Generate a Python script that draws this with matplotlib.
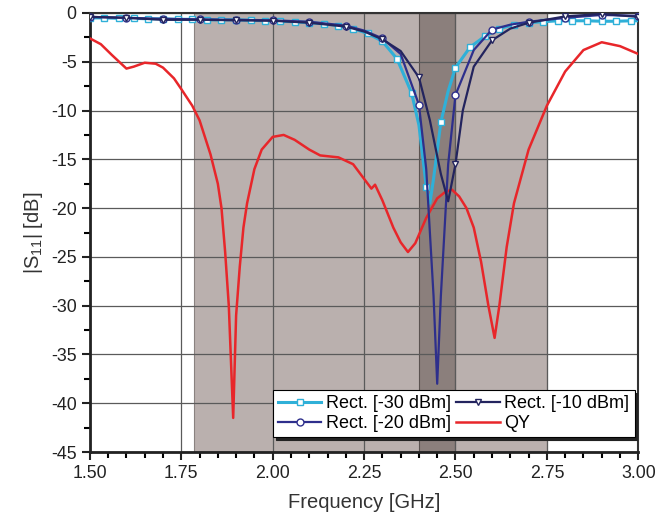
import numpy as np
import matplotlib
matplotlib.use("Agg")
import matplotlib.pyplot as plt
from matplotlib.ticker import MultipleLocator

plt.rcParams['font.family'] = ['Liberation Sans', 'DejaVu Sans']
plt.rcParams['axes.unicode_minus'] = False

# Rect. [-30 dBm]
f30 = [1.50, 1.54, 1.58, 1.62, 1.66, 1.70, 1.74, 1.78, 1.82, 1.86, 1.90, 1.94,
       1.98, 2.02, 2.06, 2.10, 2.14, 2.18, 2.22, 2.26, 2.30, 2.34, 2.38, 2.40,
       2.42, 2.43, 2.44, 2.46, 2.48, 2.50, 2.54, 2.58, 2.62, 2.66, 2.70, 2.74,
       2.78, 2.82, 2.86, 2.90, 2.94, 2.98, 3.00]
s30 = [-0.5, -0.5, -0.55, -0.55, -0.6, -0.6, -0.65, -0.65, -0.7, -0.7, -0.7, -0.75,
       -0.8, -0.85, -0.9, -1.0, -1.1, -1.3, -1.6, -2.1, -2.9, -4.7, -8.2, -11.5,
       -17.8, -19.5, -17.0, -11.2, -8.0, -5.6, -3.5, -2.4, -1.6, -1.2, -1.0, -0.9,
       -0.8, -0.8, -0.8, -0.85, -0.85, -0.8, -0.8]

# Rect. [-20 dBm]
f20 = [1.50, 1.60, 1.70, 1.80, 1.90, 2.00, 2.10, 2.20, 2.25, 2.30, 2.35, 2.40,
       2.42, 2.44, 2.45, 2.46, 2.48, 2.50, 2.55, 2.60, 2.65, 2.70, 2.80, 2.90, 3.00]
s20 = [-0.4, -0.5, -0.6, -0.65, -0.7, -0.75, -0.9, -1.3, -1.8, -2.6, -4.2, -9.4,
       -16.0, -29.0, -38.0, -29.0, -15.5, -8.4, -3.8, -1.7, -1.2, -0.9, -0.5, -0.2, -0.3]

# Rect. [-10 dBm]
f10 = [1.50, 1.60, 1.70, 1.80, 1.90, 2.00, 2.10, 2.20, 2.25, 2.30, 2.35, 2.40,
       2.43, 2.46, 2.48, 2.50, 2.52, 2.55, 2.60, 2.65, 2.70, 2.80, 2.90, 3.00]
s10 = [-0.4, -0.5, -0.7, -0.7, -0.75, -0.8, -1.0, -1.4, -1.9, -2.7, -3.9, -6.6,
       -11.0, -16.5, -19.3, -15.5, -10.0, -5.5, -2.8, -1.6, -1.0, -0.35, -0.1, -0.4]

# QY
fqy = [1.50, 1.53, 1.56, 1.60, 1.62, 1.65, 1.68, 1.70, 1.73, 1.75, 1.78, 1.80,
       1.83, 1.85, 1.86, 1.87, 1.88, 1.892, 1.90, 1.91, 1.92, 1.93, 1.95, 1.97,
       2.00, 2.03, 2.06, 2.10, 2.13, 2.18, 2.22, 2.25, 2.27, 2.28, 2.30, 2.33,
       2.35, 2.37, 2.39, 2.42, 2.45, 2.47, 2.49, 2.51, 2.53, 2.55, 2.57, 2.59,
       2.607, 2.62, 2.64, 2.66, 2.70, 2.75, 2.80, 2.85, 2.90, 2.95, 3.00]
sqy = [-2.6, -3.2, -4.3, -5.7, -5.5, -5.1, -5.2, -5.6, -6.7, -7.8, -9.5, -11.0,
       -14.5, -17.5, -20.0, -24.5, -30.0, -41.5, -31.0, -26.0, -22.0, -19.5, -16.0, -14.0,
       -12.7, -12.5, -13.0, -14.0, -14.6, -14.8, -15.5, -17.0, -18.0, -17.6, -19.2, -22.0,
       -23.5, -24.5, -23.6, -21.0, -19.0, -18.4, -18.1, -18.8, -20.0, -22.0, -25.5, -30.0,
       -33.3, -30.0, -24.0, -19.5, -14.0, -9.5, -6.0, -3.8, -3.0, -3.4, -4.2]


def marks(freqs, step):
    f = np.asarray(freqs)
    k = (f - 1.5) / step
    return list(np.where(np.isclose(k, np.round(k), atol=1e-6))[0])


fig = plt.figure(figsize=(6.56, 5.19), dpi=100)
ax = fig.add_axes([0.137, 0.129, 0.836, 0.846])

ax.axvspan(1.784, 2.75, facecolor='#bab0ae', edgecolor='#8a8280', lw=0.8, zorder=0)
ax.axvspan(2.40, 2.50, facecolor='#8b7f7c', edgecolor='#5a5250', lw=0.8, zorder=0)

ax.grid(True, color='#5a5a5a', lw=0.9, zorder=1)
ax.set_axisbelow(True)

ax.plot(f30, s30, color='#2fb0d8', lw=2.2, marker='s', ms=4.5, mfc='white',
        mec='#2fb0d8', mew=1, markevery=marks(f30, 0.04), label='Rect. [-30 dBm]', zorder=3)
ax.plot(f20, s20, color='#2e2f8c', lw=1.6, marker='o', ms=5, mfc='white',
        mec='#2e2f8c', mew=1, markevery=marks(f20, 0.1), label='Rect. [-20 dBm]', zorder=4)
ax.plot(f10, s10, color='#23245e', lw=1.6, marker='v', ms=5, mfc='white',
        mec='#23245e', mew=1, markevery=marks(f10, 0.1), label='Rect. [-10 dBm]', zorder=4)
ax.plot(fqy, sqy, color='#e8262a', lw=1.8, label='QY', zorder=3)

ax.set_xlim(1.5, 3.0)
ax.set_ylim(-45, 0)
ax.xaxis.set_major_locator(MultipleLocator(0.25))
ax.xaxis.set_minor_locator(MultipleLocator(0.05))
ax.yaxis.set_major_locator(MultipleLocator(5))
ax.yaxis.set_minor_locator(MultipleLocator(2.5))
ax.xaxis.set_major_formatter(matplotlib.ticker.FormatStrFormatter('%.2f'))
ax.tick_params(which='major', direction='out', length=6, width=1.5, labelsize=12.8, colors='#222222')
ax.tick_params(which='minor', direction='out', length=4, width=1.5)

for side in ['left', 'bottom']:
    ax.spines[side].set_linewidth(2)
    ax.spines[side].set_color('#222222')
for side in ['top', 'right']:
    ax.spines[side].set_linewidth(1.5)
    ax.spines[side].set_color('#333333')

ax.set_xlabel('Frequency [GHz]', fontsize=14.5, color='#333333', labelpad=8)
ax.set_ylabel(r'|S$_{\mathregular{11}}$| [dB]', fontsize=14.5, color='#333333', labelpad=4)

h, l = ax.get_legend_handles_labels()
leg = ax.legend(h, l, ncol=2,
                loc='lower right', bbox_to_anchor=(1.0, 0.025), fontsize=13,
                frameon=True, fancybox=False, edgecolor='black', framealpha=1,
                shadow={'color': '#222222', 'alpha': 1}, handlelength=2.4,
                columnspacing=0.3, handletextpad=0.25, labelspacing=0.15,
                borderpad=0.3, borderaxespad=0.2, numpoints=1)
leg.get_frame().set_linewidth(0.8)

fig.savefig('out.png', dpi=100, facecolor='white')
